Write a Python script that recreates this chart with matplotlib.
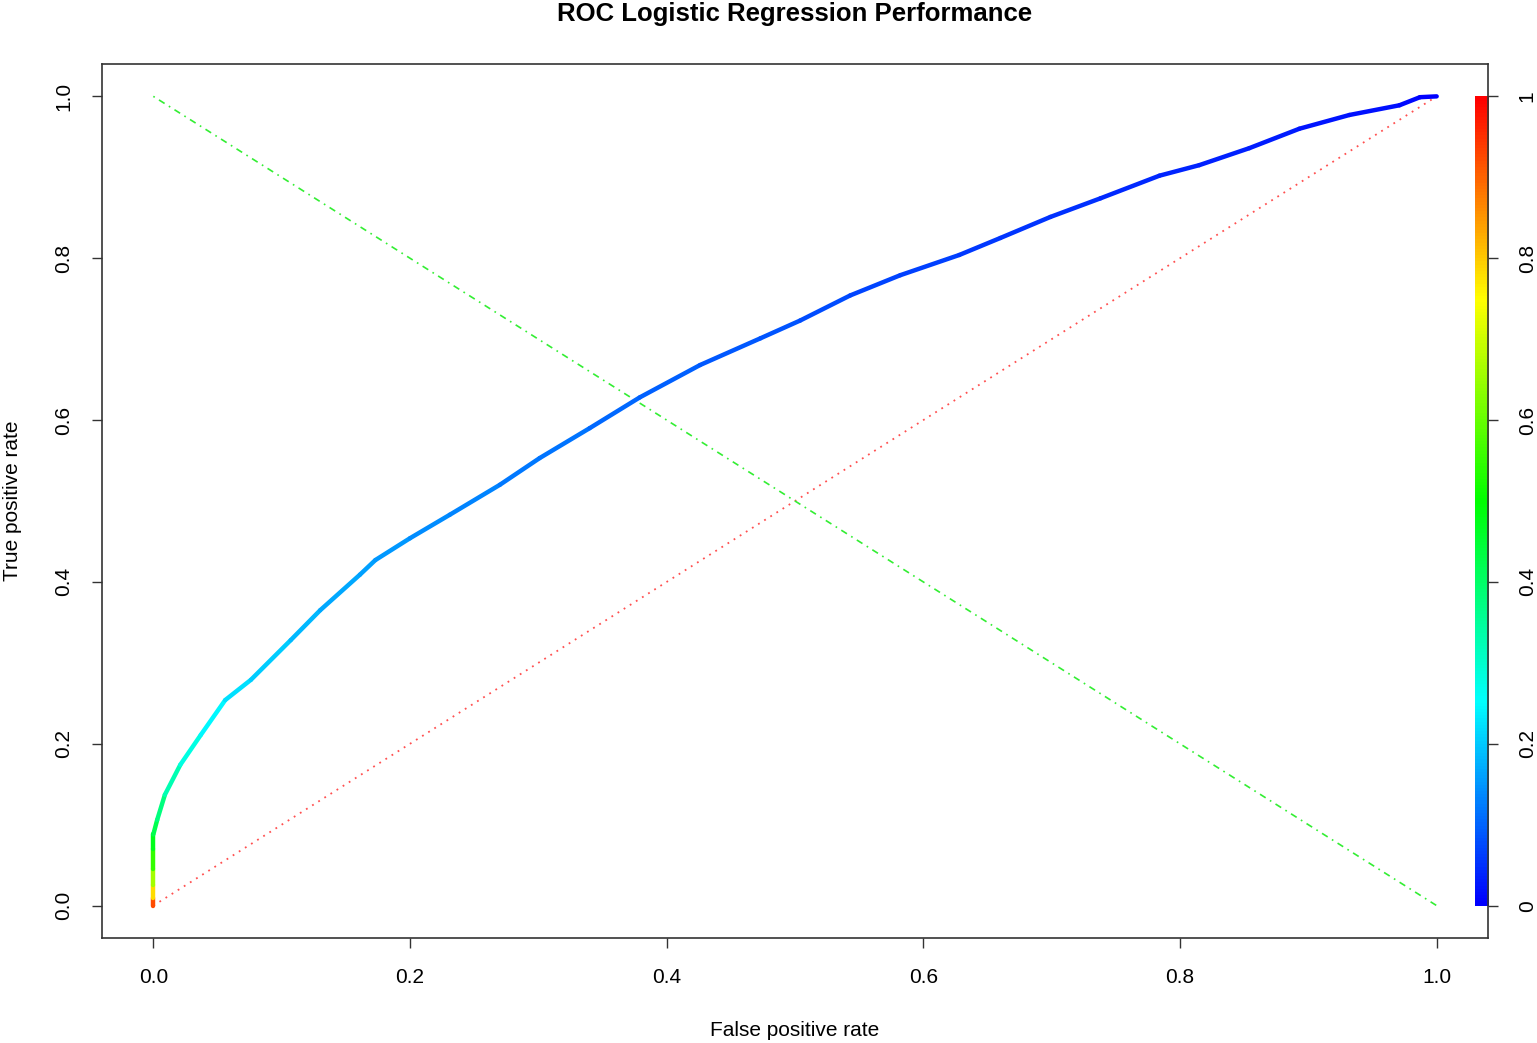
import numpy as np
import matplotlib
matplotlib.use("Agg")
import matplotlib.pyplot as plt
from matplotlib.collections import LineCollection
from matplotlib.colors import hsv_to_rgb, ListedColormap

plt.rcParams['font.family'] = ['Liberation Sans', 'DejaVu Sans']

# ROC curve: false positive rate, true positive rate, cutoff
fpr = [0.0, 0.0, 0.0, 0.0, 0.0, 0.0, 0.003, 0.009, 0.021, 0.037, 0.056, 0.076,
       0.107, 0.130, 0.161, 0.173, 0.200, 0.231, 0.270, 0.301, 0.340, 0.379,
       0.426, 0.473, 0.504, 0.543, 0.582, 0.628, 0.660, 0.699, 0.738, 0.784,
       0.815, 0.854, 0.893, 0.932, 0.971, 0.987, 1.0]
tpr = [0.0, 0.01, 0.025, 0.045, 0.07, 0.088, 0.106, 0.137, 0.174, 0.211, 0.254,
       0.279, 0.328, 0.365, 0.409, 0.427, 0.454, 0.483, 0.520, 0.553, 0.590,
       0.628, 0.668, 0.701, 0.723, 0.754, 0.779, 0.804, 0.825, 0.851, 0.874,
       0.902, 0.915, 0.936, 0.960, 0.977, 0.989, 0.999, 1.0]
cutoff = [1.0, 0.85, 0.72, 0.6, 0.5, 0.45, 0.4, 0.35, 0.3, 0.26, 0.23, 0.21,
          0.19, 0.175, 0.16, 0.155, 0.145, 0.135, 0.125, 0.117, 0.11, 0.10,
          0.093, 0.085, 0.08, 0.073, 0.067, 0.06, 0.055, 0.05, 0.045, 0.04,
          0.035, 0.03, 0.025, 0.02, 0.012, 0.006, 0.0]

ticks = [0.0, 0.2, 0.4, 0.6, 0.8, 1.0]
tick_labels = ['0.0', '0.2', '0.4', '0.6', '0.8', '1.0']
cbar_labels = ['0', '0.2', '0.4', '0.6', '0.8', '1']

# R's rev(rainbow(256, start=0, end=4/6))
v = np.linspace(0, 1, 256)
hsv = np.stack([(1 - v) * 4 / 6, np.ones_like(v), np.ones_like(v)], axis=1)
cmap = ListedColormap(hsv_to_rgb(hsv))

fig = plt.figure(figsize=(15.37, 10.43), dpi=100)
ax = fig.add_axes([102 / 1537, 1 - 938 / 1043, 1386 / 1537, 874 / 1043])
ax.set_xlim(-0.04, 1.04)
ax.set_ylim(-0.04, 1.04)

# reference lines
ax.plot([0, 1], [0, 1], color='#ff5050', linestyle=(0, (1, 3)), lw=1.3)
ax.plot([0, 1], [1, 0], color='#33ee33', linestyle=(0, (1, 3, 4, 3)), lw=1.2)

# colourised ROC curve
pts = np.column_stack([fpr, tpr])
segs = np.stack([pts[:-1], pts[1:]], axis=1)
cmid = (np.array(cutoff[:-1]) + np.array(cutoff[1:])) / 2
lc = LineCollection(segs, colors=cmap(cmid), linewidths=3.2, capstyle='round',
                    joinstyle='round')
ax.add_collection(lc)

# colour bar inside the plot region
ax.imshow(v.reshape(-1, 1), cmap=cmap, origin='lower', aspect='auto',
          extent=[1.0296, 1.04, 0, 1], interpolation='bilinear', zorder=1)

for s in ax.spines.values():
    s.set_color('#333333')
    s.set_linewidth(1.2)

ax.set_xticks(ticks)
ax.set_xticklabels(tick_labels)
ax.set_yticks(ticks)
ax.set_yticklabels(tick_labels, rotation=90, va='center')
ax.tick_params(axis='x', length=7.5, width=1, pad=14, labelsize=15, color='#333333')
ax.tick_params(axis='y', length=7.5, width=1, pad=13, labelsize=15, color='#333333')

ax2 = ax.twinx()
ax2.set_ylim(-0.04, 1.04)
ax2.set_yticks(ticks)
ax2.set_yticklabels(cbar_labels, rotation=90, va='center')
ax2.tick_params(axis='y', length=7.5, width=1, pad=14, labelsize=15, color='#333333')
for s in ax2.spines.values():
    s.set_visible(False)

fig.text(795 / 1537, 1 - 14 / 1043, 'ROC Logistic Regression Performance',
         ha='center', va='center', fontsize=18.5, fontweight='bold')
fig.text(795 / 1537, 1 - 1030 / 1043, 'False positive rate',
         ha='center', va='center', fontsize=15)
fig.text(13 / 1537, 1 - 501 / 1043, 'True positive rate', rotation=90,
         ha='center', va='center', fontsize=15)

fig.savefig('out.png', dpi=100)
